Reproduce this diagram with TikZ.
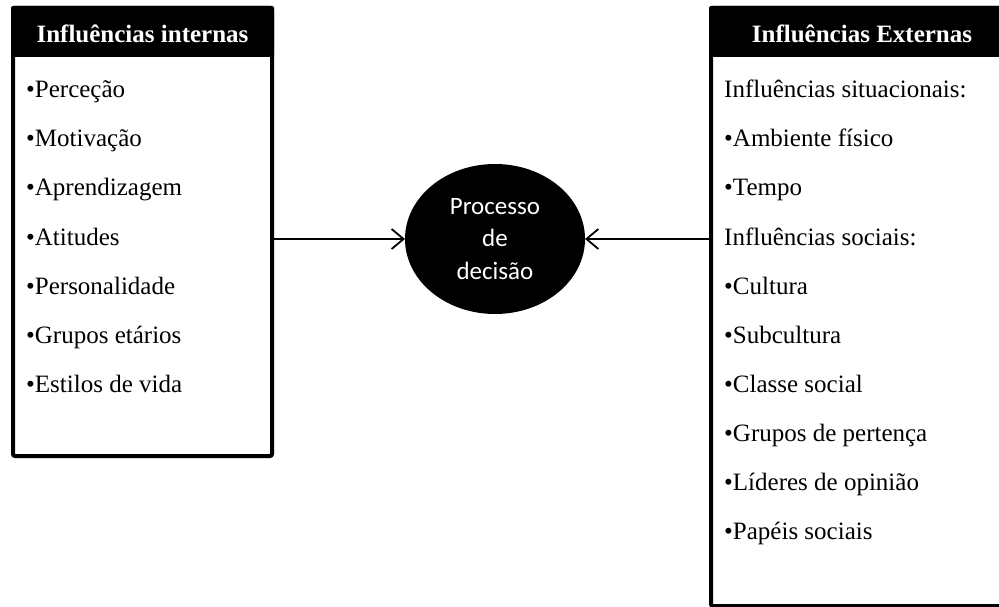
\documentclass[tikz,border=0pt]{standalone}
\usepackage{fontspec}
\setmainfont{Liberation Serif}
\newfontfamily\carl{Carlito}
\usetikzlibrary{shapes.geometric,arrows.meta}
\begin{document}
\begin{tikzpicture}[x=1pt,y=-1pt,
  boxframe/.style={draw, line width=4pt, rounded corners=2pt, inner sep=0, anchor=north west},
  headfill/.style={fill=black, rounded corners=2pt},
  headtxt/.style={font=\fontsize{25}{30}\selectfont\bfseries, text=white, anchor=base, inner sep=0},
  itemtxt/.style={font=\fontsize{25}{30}\selectfont, anchor=base west, inner sep=0},
  procnode/.style={ellipse, fill=black, text=white, minimum width=180pt, minimum height=150pt, inner sep=0, outer sep=0, align=center, font=\carl\fontsize{25}{32.5}\selectfont},
  conn/.style={line width=1.8pt, -{Straight Barb[length=12pt,width=20pt]}}
]
\useasboundingbox (0,0) rectangle (999,607);
\clip (0,0) rectangle (999,607);

% left box
\fill[headfill] (11,6) rectangle (274,57);
\node[boxframe, minimum width=259pt, minimum height=448pt] (inbox) at (11,6) {};
\node[headtxt] (inhead) at (142.5,43) {Influências internas};
\node[itemtxt] (i1) at (26,98) {•Perceção};
\node[itemtxt] (i2) at (26,147) {•Motivação};
\node[itemtxt] (i3) at (26,196) {•Aprendizagem};
\node[itemtxt] (i4) at (26,245) {•Atitudes};
\node[itemtxt] (i5) at (26,294) {•Personalidade};
\node[itemtxt] (i6) at (26,343) {•Grupos etários};
\node[itemtxt] (i7) at (26,392) {•Estilos de vida};

% right box
\fill[headfill] (709,6) rectangle (1015,57);
\node[boxframe, minimum width=302pt, minimum height=598pt] (exbox) at (709,6) {};
\node[headtxt] (exhead) at (862,43) {Influências Externas};
\node[itemtxt] (e1) at (724,98) {Influências situacionais:};
\node[itemtxt] (e2) at (724,147) {•Ambiente físico};
\node[itemtxt] (e3) at (724,196) {•Tempo};
\node[itemtxt] (e4) at (724,245) {Influências sociais:};
\node[itemtxt] (e5) at (724,294) {•Cultura};
\node[itemtxt] (e6) at (724,343) {•Subcultura};
\node[itemtxt] (e7) at (724,392) {•Classe social};
\node[itemtxt] (e8) at (724,441) {•Grupos de pertença};
\node[itemtxt] (e9) at (724,490) {•Líderes de opinião};
\node[itemtxt] (e10) at (724,539) {•Papéis sociais};

% centre
\node[procnode] (proc) at (495,239) {Processo\\de\\decisão};

\draw[conn] (inbox.east |- proc.west) -- (proc.west);
\draw[conn] (exbox.west |- proc.east) -- (proc.east);
\end{tikzpicture}
\end{document}
